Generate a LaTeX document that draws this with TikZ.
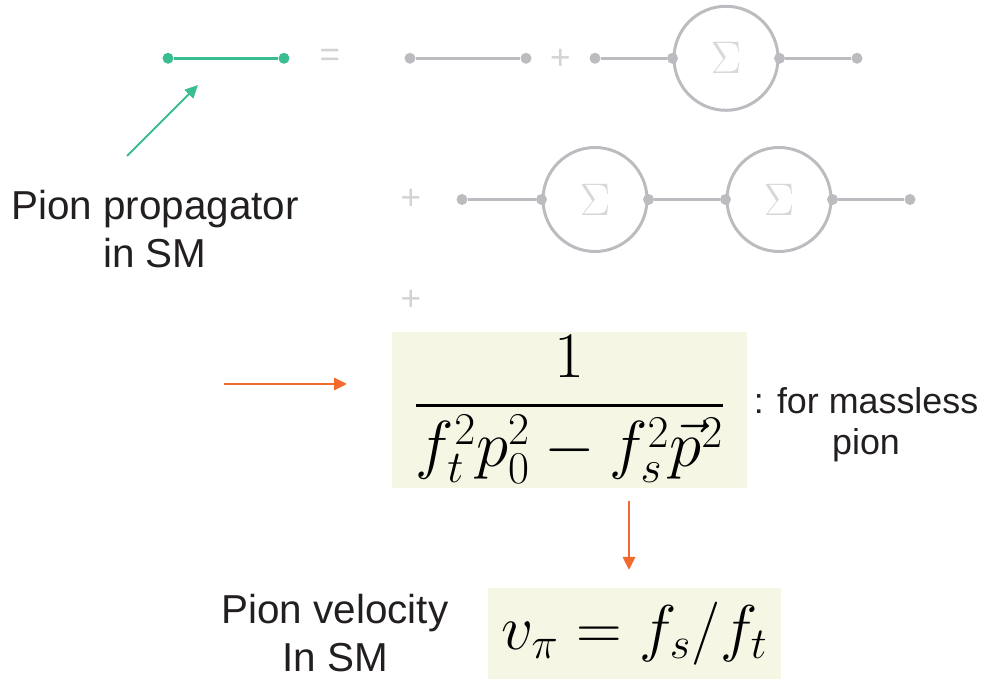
\documentclass[tikz,border=0pt]{standalone}
\usepackage{fix-cm}
\usepackage{amsmath,amssymb}
\usepackage{fontspec}
\newfontfamily\arialfont{Liberation Sans}
\usepackage{tikz}
\usetikzlibrary{arrows.meta}
\definecolor{pgreen}{HTML}{3BBD94}
\definecolor{lgray}{HTML}{BBBCBF}
\definecolor{pgray}{HTML}{D3D3D3}
\definecolor{sgray}{HTML}{D8D8D8}
\definecolor{porange}{HTML}{F26A2C}
\definecolor{fbox}{HTML}{F5F7E4}
\definecolor{tblack}{HTML}{231F20}

\begin{document}
\begin{tikzpicture}[>={Triangle[length=0.26cm,width=0.24cm]},
	  dot/.style={circle,fill=#1,inner sep=0pt,minimum size=0.22cm},
	  dot/.default=lgray,
	  self/.style={circle,draw=lgray,line width=1.7pt,minimum size=2.08cm,inner sep=0pt,
	    text=sgray,font=\fontsize{26}{30}\selectfont},
	  prop/.style={draw=lgray,line width=1.5pt},
	  sign/.style={text=pgray,font=\arialfont\fontsize{20}{24}\selectfont},
	  label/.style={text=tblack,align=center,font=\arialfont\fontsize{23}{27.2}\selectfont},
	  formula/.style={fill=fbox,inner sep=0pt,text=black}]
	  \useasboundingbox (0,0) rectangle (19.62,-13.58);
	  % first row
	  \node[dot=pgreen] (g1) at (3.36,-1.166) {};
	  \node[dot=pgreen] (g2) at (5.68,-1.166) {};
	  \draw[draw=pgreen,line width=1.6pt] (g1) -- (g2);
	  \node[sign] (eq) at (6.60,-1.16) {=};
	  \node[dot] (a1) at (8.20,-1.166) {};
	  \node[dot] (a2) at (10.52,-1.166) {};
	  \draw[prop] (a1) -- (a2);
	  \node[sign] (pl1) at (11.21,-1.18) {+};
	  \node[dot] (b1) at (11.90,-1.166) {};
	  \node[self] (s1) at (14.52,-1.166) {$\Sigma$};
	  \node[dot] (b2) at (s1.west) {};
	  \node[dot] (b3) at (s1.east) {};
	  \node[dot] (b4) at (17.14,-1.166) {};
	  \draw[prop] (b1) -- (b2);
	  \draw[prop] (b3) -- (b4);
	  % second row
	  \node[sign] (pl2) at (8.22,-3.99) {+};
	  \node[dot] (c1) at (9.24,-3.99) {};
	  \node[self] (s2) at (11.90,-3.99) {$\Sigma$};
	  \node[self] (s3) at (15.58,-3.99) {$\Sigma$};
	  \node[dot] (c2) at (s2.west) {};
	  \node[dot] (c3) at (s2.east) {};
	  \node[dot] (c4) at (s3.west) {};
	  \node[dot] (c5) at (s3.east) {};
	  \node[dot] (c6) at (18.20,-3.99) {};
	  \draw[prop] (c1) -- (c2);
	  \draw[prop] (c3) -- (c4);
	  \draw[prop] (c5) -- (c6);
	  \node[sign] (pl3) at (8.22,-6.00) {+};
	  % texts
	  \node[label] (pname) at (3.10,-4.58) {Pion propagator\\in SM};
	  \coordinate (gs) at (2.54,-3.12);
	  \coordinate (ge) at (3.96,-1.70);
	  \draw[->,draw=pgreen,fill=pgreen,line width=1.2pt] (gs) -- (ge);
	  \node[formula,minimum width=7.10cm,minimum height=3.12cm] (frac) at (11.39,-8.20)
	    {\fontsize{37}{44}\selectfont$\displaystyle\frac{1}{f_t^2p_0^2-f_s^2\vec{p}^2}$};
	  \node[label,font=\arialfont\fontsize{20.4}{23.2}\selectfont] (mass) at (17.32,-8.50)
	    {: for massless\\pion};
	  \coordinate (hs) at (4.48,-7.68);
	  \coordinate (he) at (6.94,-7.68);
	  \draw[->,draw=porange,fill=porange,line width=1.7pt] (hs) -- (he);
	  \coordinate (vs) at (12.58,-10.02);
	  \coordinate (ve) at (12.58,-11.40);
	  \draw[->,draw=porange,fill=porange,line width=1.7pt] (vs) -- (ve);
	  \node[formula,minimum width=5.86cm,minimum height=1.82cm] (vel) at (12.69,-12.67)
	    {\fontsize{36}{42}\selectfont$v_\pi=f_s/f_t$};
	  \node[label] (vname) at (6.70,-12.66) {Pion velocity\\In SM};
	\end{tikzpicture}
\end{document}
